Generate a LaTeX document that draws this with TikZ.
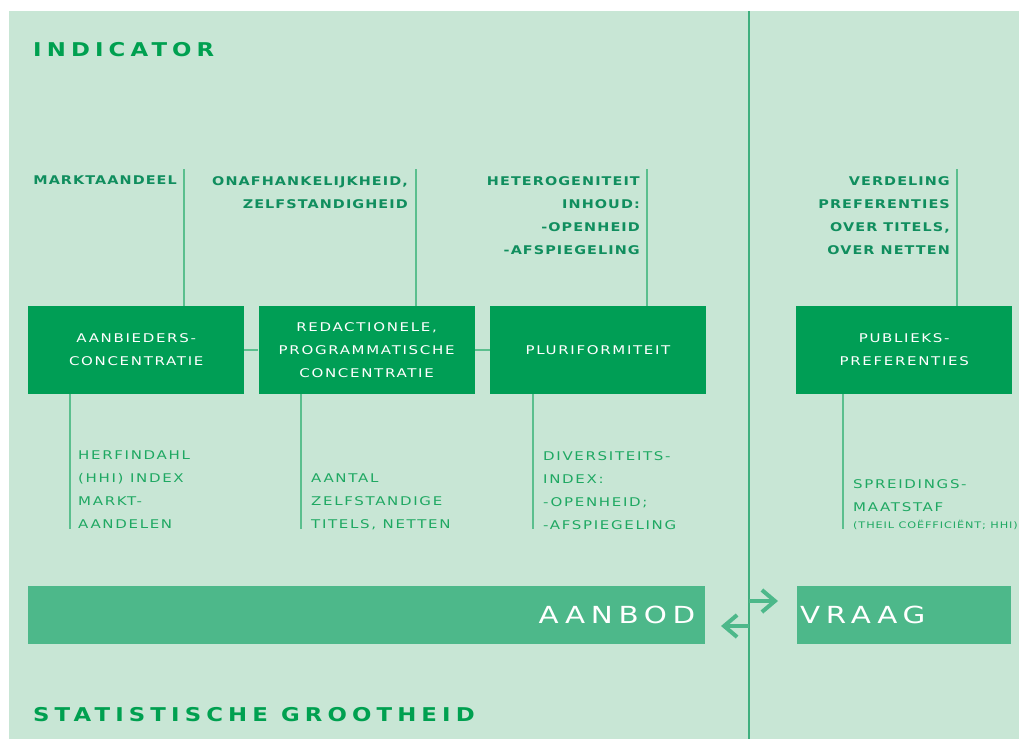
\documentclass[tikz,border=0pt]{standalone}
\usepackage{fontspec}
\newfontfamily\lblfont[FakeStretch=1.25, LetterSpace=14]{DejaVu Sans}
\newfontfamily\lblboldfont[FakeStretch=1.2, LetterSpace=9]{DejaVu Sans Bold}
\newfontfamily\headfont[FakeStretch=1.2, LetterSpace=27]{DejaVu Sans Bold}
\newfontfamily\bandfont[FakeStretch=1.25, LetterSpace=24]{DejaVu Sans}
\newfontfamily\notefont[FakeStretch=1.25, LetterSpace=10]{DejaVu Sans}
\usetikzlibrary{arrows.meta}
\usetikzlibrary{positioning}

\definecolor{panelbg}{HTML}{C8E6D5}
\definecolor{boxgreen}{HTML}{009E55}
\definecolor{bandgreen}{HTML}{4DB88A}
\definecolor{topgreen}{HTML}{108E5E}
\definecolor{botgreen}{HTML}{1EA862}
\definecolor{headgreen}{HTML}{00A050}
\definecolor{stemgreen}{HTML}{5BBF8E}
\definecolor{divgreen}{HTML}{3FAF7E}

\begin{document}
\begin{tikzpicture}[x=1pt, y=-1pt,
    indbox/.style={fill=boxgreen, text=white, minimum width=216pt, minimum height=87.5pt,
      inner sep=0pt, align=center, font=\lblfont\fontsize{12}{23}\selectfont},
    lbltop/.style={anchor=north east, inner sep=0pt, align=right, text=topgreen,
      font=\lblboldfont\fontsize{12}{23}\selectfont},
    lblbot/.style={anchor=north west, inner sep=0pt, align=left, text=botgreen,
      font=\lblfont\fontsize{12}{23}\selectfont},
    stem/.style={draw=stemgreen, line width=1.2pt},
    bandbox/.style={fill=bandgreen, text=white, minimum height=57.5pt, inner ysep=0pt,
      anchor=north west, font=\bandfont\fontsize{23.5}{28}\selectfont},
    heading/.style={anchor=north west, inner sep=0pt, text=headgreen,
      font=\headfont\fontsize{19}{23}\selectfont},
    swap/.style={draw=bandgreen, line width=4pt, -{Straight Barb[length=13pt,width=22pt]}}]
  \useasboundingbox (0,0) rectangle (1019,740);
  \fill[panelbg] (9,11) rectangle (1019,739);

  \coordinate (dtop) at (749,11);
  \coordinate (dbot) at (749,739);
  \draw[divgreen, line width=1.5pt] (dtop) -- (dbot);

  \node[heading] (indicator) at (33,42) {INDICATOR};
  \node[heading] (statgr) at (33,707) {STATISTISCHE GROOTHEID};

  \node[indbox, anchor=north west] (aanbieders) at (28,306) {AANBIEDERS-\\CONCENTRATIE};
  \node[indbox, right=14pt of aanbieders] (redactie) {REDACTIONELE,\\PROGRAMMATISCHE\\CONCENTRATIE};
  \node[indbox, right=15pt of redactie] (pluri) {PLURIFORMITEIT};
  \node[indbox, anchor=north west] (publiek) at (796,306) {PUBLIEKS-\\PREFERENTIES};

  \node[lbltop] (markt) at (177,176) {MARKTAANDEEL};
  \node[lbltop] (onafh) at (408,176) {ONAFHANKELIJKHEID,\\ZELFSTANDIGHEID};
  \node[lbltop] (hetero) at (640,176) {HETEROGENITEIT\\INHOUD:\\-OPENHEID\\-AFSPIEGELING};
  \node[lbltop] (verdeling) at (950,176) {VERDELING\\PREFERENTIES\\OVER TITELS,\\OVER NETTEN};

  \node[lblbot] (herf) at (78,451) {HERFINDAHL\\(HHI) INDEX\\MARKT-\\AANDELEN};
  \node[lblbot] (aantal) at (311,474) {AANTAL\\ZELFSTANDIGE\\TITELS, NETTEN};
  \node[lblbot] (divers) at (543,451) {DIVERSITEITS-\\INDEX:\\-OPENHEID;\\-AFSPIEGELING};
  \node[lblbot] (spreid) at (853,479) {SPREIDINGS-\\MAATSTAF};
  \node[anchor=north west, inner sep=0pt, text=botgreen,
    font=\notefont\fontsize{9}{11}\selectfont] (theil) at (853,520) {(THEIL COËFFICIËNT; HHI)};

  \coordinate (t1) at (184,169);
  \coordinate (t2) at (416,169);
  \coordinate (t3) at (647,169);
  \coordinate (t4) at (957,169);
  \coordinate (b1) at (70,529);
  \coordinate (b2) at (301,529);
  \coordinate (b3) at (533,529);
  \coordinate (b4) at (843,529);

  \draw[stem]
  (t1) -- (t1 |- aanbieders.north)
  (t2) -- (t2 |- redactie.north)
  (t3) -- (t3 |- pluri.north)
  (t4) -- (t4 |- publiek.north)
  (b1 |- aanbieders.south) -- (b1)
  (b2 |- redactie.south) -- (b2)
  (b3 |- pluri.south) -- (b3)
  (b4 |- publiek.south) -- (b4)
  (aanbieders) -- (redactie)
  (redactie) -- (pluri);

  \node[bandbox, text width=657pt, inner xsep=10pt, align=right] (aanbod) at (28,586) {AANBOD};
  \node[bandbox, text width=208pt, inner xsep=3pt, align=left] (vraag) at (797,586) {VRAAG};

  \coordinate (swapR) at (749,601);
  \coordinate (vraagtip) at (778,601);
  \coordinate (swapL) at (749,626);
  \coordinate (aanbodtip) at (721,626);
  \draw[swap] (swapR) -- (vraagtip);
  \draw[swap] (swapL) -- (aanbodtip);
\end{tikzpicture}
\end{document}
